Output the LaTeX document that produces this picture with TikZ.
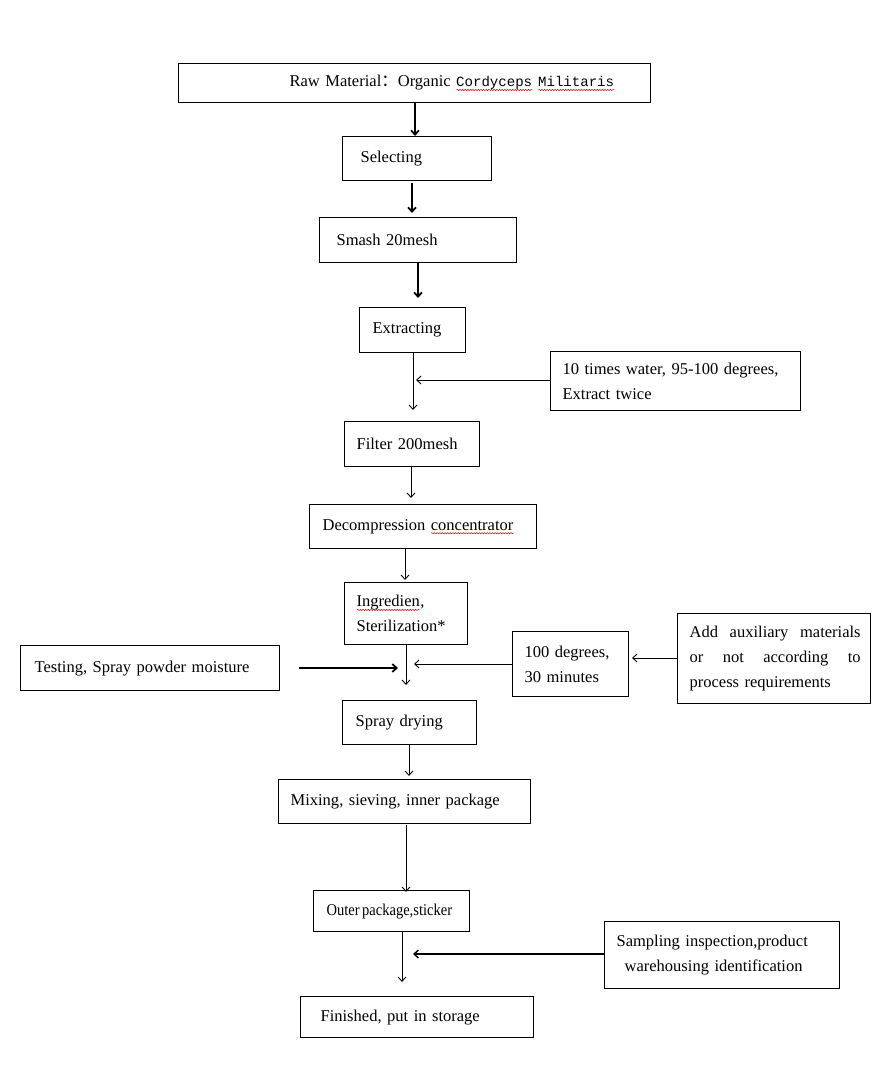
\documentclass[tikz,border=0pt]{standalone}
\usepackage{fontspec}
\setmainfont{Liberation Serif}
\newfontfamily\codefont{Liberation Mono}
\newfontfamily\cjkfont{Noto Sans CJK SC}
\usepackage{tikz}
\usetikzlibrary{arrows.meta}
\usetikzlibrary{decorations.pathmorphing}
\pgfdeclarelayer{edgelayer}
\pgfdeclarelayer{nodelayer}
\pgfsetlayers{edgelayer,nodelayer,main}
\newlength{\pxu}
\setlength{\pxu}{0.02cm}
\newsavebox{\typobox}
\newcommand{\typo}[1]{\sbox{\typobox}{#1}\rlap{#1}\raisebox{-2.3pt}{\tikz\draw [red, line width=0.3pt, decorate, decoration={snake, amplitude=0.35pt, segment length=1.5pt}] (0pt,0pt) -- (\the\wd\typobox,0pt);}}
\tikzstyle{none}=[inner sep=0pt]
\tikzstyle{box}=[draw, line width=0.7pt, anchor=north west, inner sep=0pt, align=left, font=\fontsize{9.4}{14.2}\selectfont]
\tikzstyle{flow}=[-{Straight Barb[length=2.5pt,width=4.5pt]}, line width=0.5pt]
\tikzstyle{heavyflow}=[flow, line width=1pt]
\tikzset{pad/.style={execute at begin node={\leftskip=#1\pxu}}}

\begin{document}
\begin{tikzpicture}[x=0.02cm, y=-0.02cm]
	\useasboundingbox (0,0) rectangle (890,1091);
	\begin{pgfonlayer}{nodelayer}
		\node [style=box, pad=111, text width={472*\pxu}, minimum height={39*\pxu}] (0) at (178, 63) {Raw Material{\cjkfont ：}Organic {\codefont\fontsize{8}{10}\selectfont\typo{Cordyceps} \typo{Militaris}}};
		\node [style=box, pad=18, text width={149*\pxu}, minimum height={44*\pxu}] (1) at (342, 136) {Selecting};
		\node [style=box, pad=17, text width={197*\pxu}, minimum height={45*\pxu}] (2) at (319, 217) {Smash 20mesh};
		\node [style=box, pad=13, text width={106*\pxu}, minimum height={45*\pxu}] (3) at (359, 307) {Extracting};
		\node [style=box, pad=12, text width={250*\pxu}, minimum height={59*\pxu}] (4) at (550, 351) {10 times water, 95-100 degrees,\\Extract twice};
		\node [style=box, pad=12, text width={135*\pxu}, minimum height={45*\pxu}] (5) at (344, 421) {Filter 200mesh};
		\node [style=box, pad=13, text width={227*\pxu}, minimum height={44*\pxu}] (6) at (309, 504) {Decompression \typo{concentrator}};
		\node [style=box, pad=12, text width={123*\pxu}, minimum height={62*\pxu}] (7) at (344, 582) {\typo{Ingredien},\\Sterilization*};
		\node [style=box, pad=12, text width={116*\pxu}, minimum height={65*\pxu}] (8) at (512, 631) {100 degrees,\\30 minutes};
		\node [style=box, pad=12, text width={193*\pxu}, minimum height={90*\pxu}] (9) at (677, 613) {\makebox[171\pxu][l]{Add\hfill auxiliary\hfill materials}\\\makebox[171\pxu][l]{or\hfill not\hfill according\hfill to}\\process requirements};
		\node [style=box, pad=14, text width={259*\pxu}, minimum height={45*\pxu}] (10) at (20, 645) {Testing, Spray powder moisture};
		\node [style=box, pad=13, text width={134*\pxu}, minimum height={44*\pxu}] (11) at (342, 700) {Spray drying};
		\node [style=box, pad=12, text width={252*\pxu}, minimum height={44*\pxu}] (12) at (278, 779) {Mixing, sieving, inner package};
		\node [style=box, pad=13, text width={156*\pxu}, minimum height={41*\pxu}] (13) at (313, 890) {\scalebox{0.88}[1]{Outer\,package,sticker}};
		\node [style=box, pad=12, text width={235*\pxu}, minimum height={67*\pxu}] (14) at (604, 921) {Sampling inspection,product\\\hspace*{8\pxu}warehousing identification};
		\node [style=box, pad=20, text width={233*\pxu}, minimum height={41*\pxu}] (15) at (300, 996) {Finished, put in storage};

		\node [style=none] (16) at (415, 102) {};
		\node [style=none] (17) at (415, 136) {};
		\node [style=none] (18) at (412, 183) {};
		\node [style=none] (19) at (412, 213) {};
		\node [style=none] (20) at (418, 263) {};
		\node [style=none] (21) at (418, 298) {};
		\node [style=none] (22) at (413, 352) {};
		\node [style=none] (23) at (413, 410) {};
		\node [style=none] (24) at (550, 380) {};
		\node [style=none] (25) at (416, 380) {};
		\node [style=none] (26) at (411, 466) {};
		\node [style=none] (27) at (411, 498) {};
		\node [style=none] (28) at (405, 548) {};
		\node [style=none] (29) at (405, 580) {};
		\node [style=none] (30) at (406, 645) {};
		\node [style=none] (31) at (406, 685) {};
		\node [style=none] (32) at (512, 664) {};
		\node [style=none] (33) at (414, 664) {};
		\node [style=none] (34) at (677, 658) {};
		\node [style=none] (35) at (632, 658) {};
		\node [style=none] (36) at (299, 668) {};
		\node [style=none] (37) at (398, 668) {};
		\node [style=none] (38) at (409, 744) {};
		\node [style=none] (39) at (409, 776) {};
		\node [style=none] (40) at (406, 825) {};
		\node [style=none] (41) at (406, 892) {};
		\node [style=none] (42) at (402, 931) {};
		\node [style=none] (43) at (402, 982) {};
		\node [style=none] (44) at (604, 954) {};
		\node [style=none] (45) at (413, 954) {};
	\end{pgfonlayer}
	\begin{pgfonlayer}{edgelayer}
		\draw [style=heavyflow] (16.center) to (17.center);
		\draw [style=heavyflow] (18.center) to (19.center);
		\draw [style=heavyflow] (20.center) to (21.center);
		\draw [style=flow] (22.center) to (23.center);
		\draw [style=flow] (24.center) to (25.center);
		\draw [style=flow] (26.center) to (27.center);
		\draw [style=flow] (28.center) to (29.center);
		\draw [style=flow] (30.center) to (31.center);
		\draw [style=flow] (32.center) to (33.center);
		\draw [style=flow] (34.center) to (35.center);
		\draw [style=heavyflow] (36.center) to (37.center);
		\draw [style=flow] (38.center) to (39.center);
		\draw [style=flow] (40.center) to (41.center);
		\draw [style=flow] (42.center) to (43.center);
		\draw [style=flow, line width=0.8pt] (44.center) to (45.center);
	\end{pgfonlayer}
\end{tikzpicture}
\end{document}
